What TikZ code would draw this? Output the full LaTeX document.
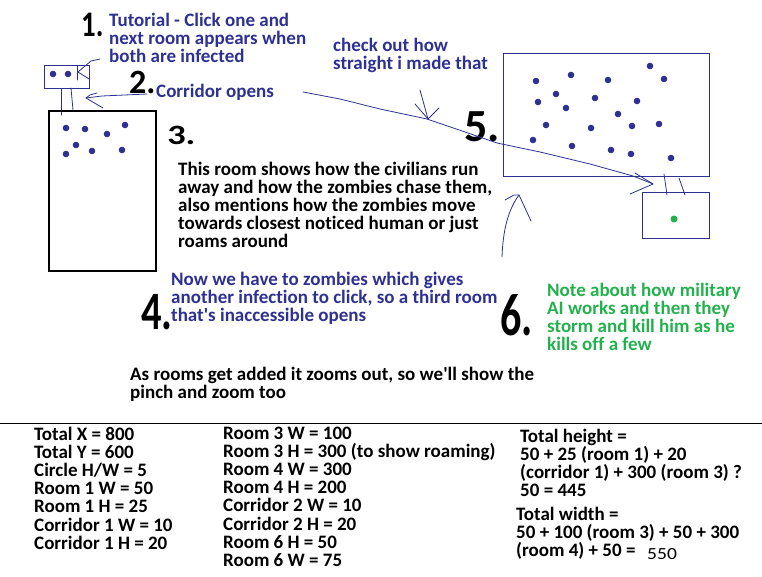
\documentclass[tikz,border=0pt]{standalone}
\usepackage{fontspec}
\setmainfont{Carlito}[Ligatures=NoCommon]
\definecolor{inkblue}{RGB}{46,49,146}
\definecolor{inkgreen}{RGB}{34,177,76}
\tikzset{
  txt/.style={anchor=north west, inner sep=0pt, align=left, font=\bfseries\fontsize{19}{18}\selectfont},
  num/.style={anchor=base west, inner sep=0pt, text=black, font=\bfseries\fontsize{#1}{#1}\selectfont},
  bluewall/.style={draw=inkblue, line width=1pt},
  blackwall/.style={draw=black, line width=1.2pt},
  pen/.style={draw=inkblue, line width=0.8pt, line cap=round, line join=round},
  zdot/.style={fill=inkblue},
}
\begin{document}
\begin{tikzpicture}[x=1pt,y=-1pt]
\useasboundingbox (0,0) rectangle (762,577);
\fill[white] (0,0) rectangle (762,577);

% ---------- room 1 ----------
\draw[bluewall] (44,66) rectangle (89,89);
\fill[zdot] (53,74) circle (3.3) (68,74) circle (3.3);
\draw[pen] (77,66) -- (77,80);
\draw[pen] (100,59) -- (91,61) -- (78,72) -- (89,79);
% corridor 1
\draw[pen] (61,89) -- (61,115);
\draw[pen] (71,88) -- (73,110);

% ---------- room 3 ----------
\draw[blackwall] (49,111) rectangle (156,271);
\foreach \p in {(66,128),(85,129),(107,134),(125,125),(76,145),(66,154),(92,151),(122,150)}
  \fill[zdot] \p circle (3.3);

% ---------- room 4 ----------
\draw[bluewall] (503,54) rectangle (709,177);
\foreach \p in {(536,81),(571,75),(608,80),(650,66),(664,79),(556,94),(538,102),(595,98),
  (637,101),(566,108),(618,114),(546,125),(591,128),(632,126),(659,124),(533,140),
  (572,146),(611,150),(631,154),(671,158)}
  \fill[zdot] \p circle (3.3);
% corridor 2
\draw[pen] (664,174) -- (667,195);
\draw[pen] (679,178) -- (685,195);
% room 6
\draw[bluewall] (642,193) rectangle (709,238);
\fill[inkgreen] (674,219) circle (3.5);

% ---------- separator ----------
\draw[black, line width=1pt] (0,423.5) -- (762,423.5);

% ---------- texts ----------
\node[txt, text=inkblue] (tut) at (109,12.5) {Tutorial - Click one and\\next room appears when\\both are infected};
\node[txt, text=inkblue] (corr) at (156,83.5) {Corridor opens};
\node[txt, text=inkblue] (check) at (333,37.5) {check out how\\straight i made that};
\node[txt, text=black] (civ) at (178,161.5) {This room shows how the civilians run\\away and how the zombies chase them,\\also mentions how the zombies move\\towards closest noticed human or just\\roams around};
\node[txt, text=inkblue] (now) at (171,271.5) {Now we have to zombies which gives\\another infection to click, so a third room\\that\textquotesingle s inaccessible opens};
\node[txt, text=inkgreen] (note) at (547,282.5) {Note about how military\\AI works and then they\\storm and kill him as he\\kills off a few};
\node[txt, text=black] (zoom) at (130,366.5) {As rooms get added it zooms out, so we\textquotesingle ll show the\\pinch and zoom too};

\node[txt, text=black, font=\bfseries\fontsize{19}{18.2}\selectfont] (col1) at (34,426.5) {Total X = 800\\Total Y = 600\\Circle H/W = 5\\Room 1 W = 50\\Room 1 H = 25\\Corridor 1 W = 10\\Corridor 1 H = 20};
\node[txt, text=black, font=\bfseries\fontsize{19}{18.2}\selectfont] (col2) at (223,426.5) {Room 3 W = 100\\Room 3 H = 300 (to show roaming)\\Room 4 W = 300\\Room 4 H = 200\\Corridor 2 W = 10\\Corridor 2 H = 20\\Room 6 H = 50\\Room 6 W = 75};
\node[txt, text=black] (height) at (520,428.5) {Total height =\\50 + 25 (room 1) + 20\\(corridor 1) + 300 (room 3) ?\\50 = 445};
\node[txt, text=black] (width) at (516,506.5) {Total width =\\50 + 100 (room 3) + 50 + 300\\(room 4) + 50 =};
\node[anchor=base west, inner sep=0pt, xscale=1.15, font=\fontsize{17}{17}\selectfont] (sum) at (647,559) {550};

% ---------- handwritten numbers ----------
\node[num=36, xscale=0.8] (n1) at (81,37) {1.};
\node[num=34] (n2) at (129,94) {2.};
\node[num=28, xscale=1.3] (n3) at (167,145) {3.};
\node[num=54, xscale=0.75] (n4) at (141,329) {4.};
\node[num=46] (n5) at (464,142) {5.};
\node[num=60, xscale=0.7] (n6) at (500,335) {6.};

% ---------- connectors ----------
\coordinate (corrTail) at (147,94);
\coordinate (corrTip) at (86,98);
\draw[pen] (corrTail) -- (102,96) -- (corrTip);
\draw[pen] (97,93) -- (90,95) -- (corrTip) -- (103,108);

\coordinate (longTail) at (303,92);
\coordinate (longTip) at (653,184);
\draw[pen] (longTail) -- (340,99) -- (380,109) -- (427,119) -- (465,132) -- (497,143)
  -- (540,152) -- (590,164) -- (633,176) -- (longTip);
\draw[pen] (635,173) -- (longTip) -- (630,194);

\coordinate (chkTail) at (420,90);
\coordinate (chkTip) at (428,119);
\draw[pen] (chkTail) -- (chkTip);
\draw[pen] (415,104) -- (chkTip) -- (439,108);

\coordinate (sixTail) at (502,257);
\coordinate (sixTip) at (519,195);
\draw[pen] (sixTail) .. controls (503,230) and (508,210) .. (sixTip);
\draw[pen] (505,200) -- (514,195) -- (sixTip) -- (531,221);
\end{tikzpicture}
\end{document}
